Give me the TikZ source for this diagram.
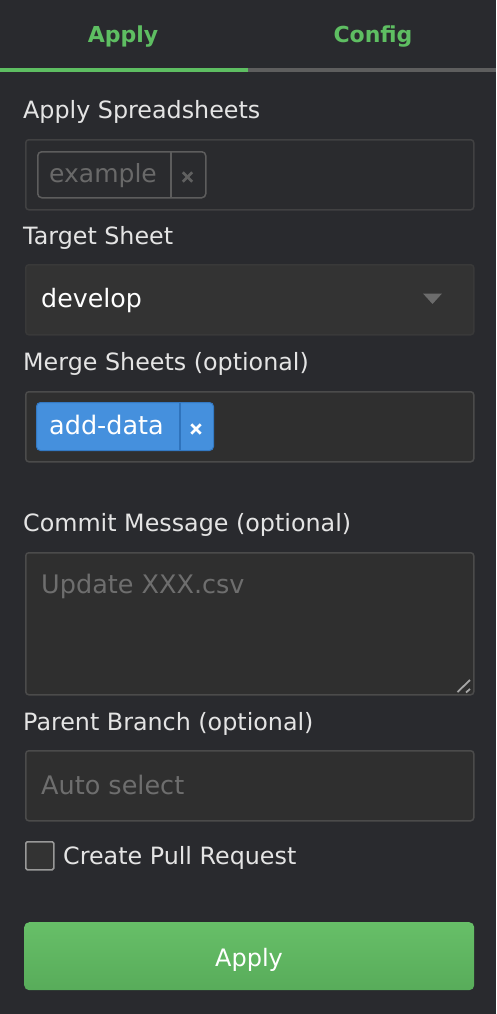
\documentclass[tikz,border=0pt]{standalone}
\usepackage{fontspec}
\setmainfont{DejaVu Sans}
\definecolor{bg}{HTML}{292A2E}
\definecolor{lbl}{HTML}{E4E4E4}
\definecolor{inbg}{HTML}{2F2F2F}
\definecolor{inbd}{HTML}{4B4B4B}
\definecolor{selbg}{HTML}{333333}
\definecolor{ph}{HTML}{6E6E6E}
\definecolor{tabgreen}{HTML}{5EBE62}
\definecolor{tabgrey}{HTML}{5E5E5E}
\definecolor{btntop}{HTML}{67BF68}
\definecolor{btnbot}{HTML}{58AC5A}
\definecolor{tagblue}{HTML}{4590DD}
\definecolor{tagdiv}{HTML}{2F73BC}
\tikzset{
  lab/.style={anchor=base west, inner sep=0pt, text=lbl, font=\fontsize{23.8}{28}\selectfont},
  phtext/.style={anchor=base west, inner sep=0pt, text=ph, font=\fontsize{25.5}{30}\selectfont},
  inbox/.style={draw=inbd, line width=1.5pt, fill=inbg, rounded corners=3pt, anchor=north west, minimum width=448pt, inner sep=0pt},
  tabtext/.style={anchor=base, inner sep=0pt, text=tabgreen, font=\fontsize{22}{26}\selectfont\bfseries},
}
\begin{document}
\begin{tikzpicture}[x=1pt,y=-1pt]
\useasboundingbox (0,0) rectangle (496,1014);
\fill[bg] (0,0) rectangle (496,1014);
% tabs
\node[tabtext] (tab1) at (123,43) {Apply};
\node[tabtext] (tab2) at (373,43) {Config};
\fill[tabgreen] (0,68.3) rectangle (248,71.7);
\fill[tabgrey] (248,68.3) rectangle (496,71.7);
% Apply Spreadsheets
\node[lab] (l1) at (23,118) {Apply Spreadsheets};
\node[inbox, minimum height=70pt, fill=bg!85!inbg, draw=inbd!70!bg] (box1) at (25,139) {};
\node[draw=inbd!90!white, line width=1.5pt, rounded corners=4pt, anchor=north west, minimum width=168pt, minimum height=46pt, inner sep=0pt] (tag1) at (37,151) {};
\draw[inbd!90!white, line width=1.5pt] (171,151) -- (171,197);
\node[phtext, text=ph!95!black, font=\fontsize{25}{30}\selectfont] (tag1t) at (49,182) {example};
\node[inner sep=0pt, minimum size=12pt] (x1) at (187.5,177) {};
\draw[ph!110!white, line width=2.6pt] ([shift={(1.5,1.5)}]x1.north west) -- ([shift={(-1.5,-1.5)}]x1.south east);
\draw[ph!110!white, line width=2.6pt] ([shift={(1.5,-1.5)}]x1.south west) -- ([shift={(-1.5,1.5)}]x1.north east);
% Target Sheet
\node[lab] (l2) at (23,244) {Target Sheet};
\node[inbox, minimum height=70pt, fill=selbg, draw=inbd!110!white] (box2) at (25,264) {};
\node[anchor=base west, inner sep=0pt, text=white, font=\fontsize{25.3}{30}\selectfont] (sel) at (41,307) {develop};
\fill[gray!85!black] (423,293.5) -- (442,293.5) -- (432.5,304) -- cycle;
% Merge Sheets
\node[lab] (l3) at (23,370) {Merge Sheets (optional)};
\node[inbox, minimum height=70pt] (box3) at (25,391) {};
\node[fill=tagblue, draw=tagdiv!80!tagblue, line width=1pt, rounded corners=4pt, anchor=north west, minimum width=177pt, minimum height=48pt, inner sep=0pt] (tag2) at (36,402) {};
\draw[tagdiv, line width=1.5pt] (180,402.5) -- (180,449.5);
\node[anchor=base west, inner sep=0pt, text=white, font=\fontsize{25.5}{30}\selectfont] (tag2t) at (49,434) {add-data};
\node[inner sep=0pt, minimum size=12pt] (x2) at (196,429) {};
\draw[white, line width=2.6pt] ([shift={(1.5,1.5)}]x2.north west) -- ([shift={(-1.5,-1.5)}]x2.south east);
\draw[white, line width=2.6pt] ([shift={(1.5,-1.5)}]x2.south west) -- ([shift={(-1.5,1.5)}]x2.north east);
% Commit Message
\node[lab] (l4) at (23,531) {Commit Message (optional)};
\node[inbox, minimum height=142pt] (box4) at (25,552) {};
\node[phtext] (ph4) at (41,593) {Update XXX.csv};
\draw[gray!70!white, line width=1.8pt] (457.5,692) -- (470,680);
\draw[gray!70!white, line width=1.8pt] (466,692.5) -- (470,689);
% Parent Branch
\node[lab] (l5) at (23,730) {Parent Branch (optional)};
\node[inbox, minimum height=70pt] (box5) at (25,750) {};
\node[phtext] (ph5) at (41,794) {Auto select};
% checkbox
\node[draw=gray!80!white, line width=1.5pt, fill=selbg, rounded corners=1.5pt, anchor=north west, minimum size=28pt, inner sep=0pt] (cb) at (25,841) {};
\node[lab] (cbl) at (63,864) {Create Pull Request};
% Apply button
\node[top color=btntop, bottom color=btnbot, rounded corners=5pt, anchor=north west, minimum width=450pt, minimum height=68pt, inner sep=0pt] (btn) at (24,922) {};
\node[anchor=base, inner sep=0pt, text=white, font=\fontsize{24}{28}\selectfont] (btnt) at (249,966) {Apply};
\end{tikzpicture}
\end{document}
